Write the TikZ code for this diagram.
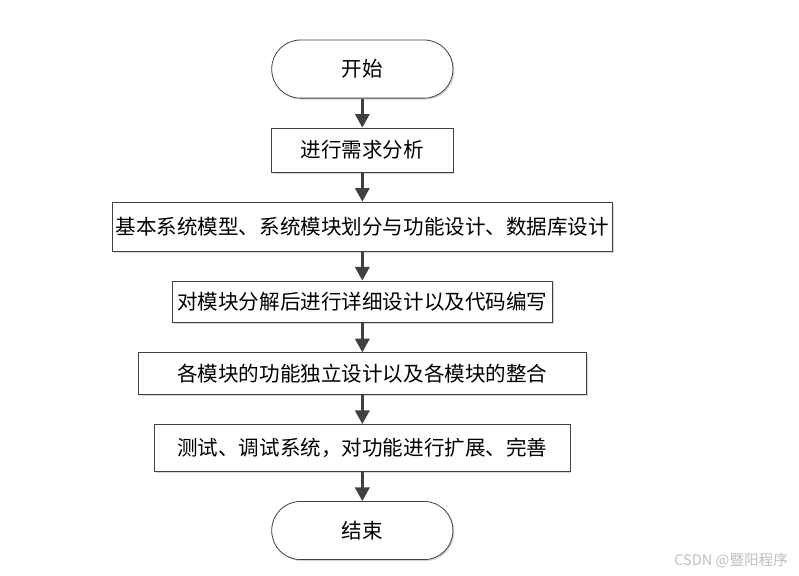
\documentclass[tikz,border=0pt]{standalone}
\usepackage{fontspec}
\usetikzlibrary{arrows.meta,positioning,shadows}
\newfontfamily\cjk{Noto Sans CJK SC}
\definecolor{FlowLine}{RGB}{64,64,64}
\definecolor{FlowShade}{RGB}{215,215,215}
\definecolor{MarkGray}{RGB}{190,190,190}

\begin{document}
\begin{tikzpicture}[
  node distance=0.77cm,
  terminal/.style={draw=FlowLine, line width=0.6pt, rounded corners=0.76cm, fill=white,
    minimum width=4.8cm, minimum height=1.54cm, font=\cjk\fontsize{15.5}{18}\selectfont,
    drop shadow={shadow xshift=0.04cm, shadow yshift=-0.04cm, fill=FlowShade, opacity=1}},
  stepbox/.style={draw=FlowLine, line width=0.6pt, fill=white, inner sep=0pt,
    font=\cjk\fontsize{15.5}{18}\selectfont,
    drop shadow={shadow xshift=0.04cm, shadow yshift=-0.04cm, fill=FlowShade, opacity=1}},
  arrow/.style={-{Triangle[length=0.36cm, width=0.38cm]}, line width=1.8pt, draw=FlowLine}
]
\useasboundingbox (0,0) rectangle (21.17,-15.24);
\node[terminal] (start) at (9.6,-1.83) {开始};
\node[stepbox, below=of start, minimum width=4.8cm, minimum height=1.17cm] (need) {进行需求分析};
\node[stepbox, below=of need, minimum width=13.25cm, minimum height=1.3cm] (model) {基本系统模型、系统模块划分与功能设计、数据库设计};
\node[stepbox, below=of model, minimum width=10.07cm, minimum height=1.11cm] (detail) {对模块分解后进行详细设计以及代码编写};
\node[stepbox, below=of detail, minimum width=11.87cm, minimum height=1.11cm] (merge) {各模块的功能独立设计以及各模块的整合};
\node[stepbox, below=of merge, minimum width=11cm, minimum height=1.25cm] (test) {测试、调试系统，对功能进行扩展、完善};
\node[terminal, below=of test] (stop) {结束};

\node[text=MarkGray, font=\cjk\fontsize{11}{13}\selectfont, anchor=east] (csdn) at (21.0,-14.86) {CSDN @暨阳程序};

\draw[arrow] (start) -- (need);
\draw[arrow] (need) -- (model);
\draw[arrow] (model) -- (detail);
\draw[arrow] (detail) -- (merge);
\draw[arrow] (merge) -- (test);
\draw[arrow] (test) -- (stop);
\end{tikzpicture}
\end{document}
